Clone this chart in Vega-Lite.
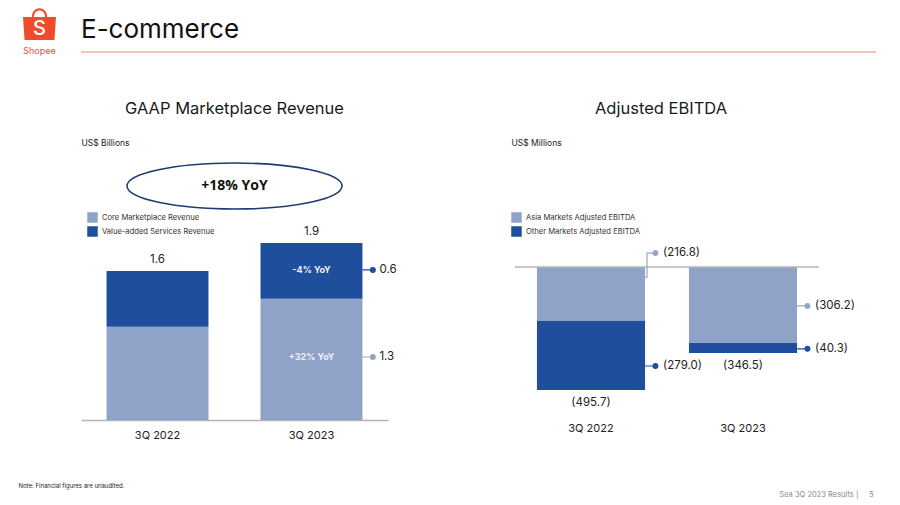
{
  "$schema": "https://vega.github.io/schema/vega-lite/v6.json",
  "background": "white",
  "padding": {"left": 18, "top": 8, "right": 10, "bottom": 5},
  "config": {"view": {"stroke": null}, "font": "Inter", "text": {"font": "Inter"}},
  "datasets": {
    "header": [{"title": "E-commerce", "brand": "Shopee", "initial": "S"}],
    "rev": [
      {"quarter": "3Q 2022", "series": "Core Marketplace Revenue", "value": 1.0},
      {"quarter": "3Q 2022", "series": "Value-added Services Revenue", "value": 0.6},
      {"quarter": "3Q 2023", "series": "Core Marketplace Revenue", "value": 1.3},
      {"quarter": "3Q 2023", "series": "Value-added Services Revenue", "value": 0.6}
    ],
    "revTotals": [
      {"quarter": "3Q 2022", "total": 1.6, "label": "1.6"},
      {"quarter": "3Q 2023", "total": 1.9, "label": "1.9"}
    ],
    "revNotes": [
      {"quarter": "3Q 2023", "series": "Value-added Services Revenue", "at": 1.61, "label": "0.6", "inside": "-4% YoY", "kind": "straight"},
      {"quarter": "3Q 2023", "series": "Core Marketplace Revenue", "at": 0.676, "label": "1.3", "inside": "+32% YoY", "kind": "straight"}
    ],
    "ebitda": [
      {"quarter": "3Q 2022", "series": "Asia Markets Adjusted EBITDA", "value": -216.8},
      {"quarter": "3Q 2022", "series": "Other Markets Adjusted EBITDA", "value": -279.0},
      {"quarter": "3Q 2023", "series": "Asia Markets Adjusted EBITDA", "value": -306.2},
      {"quarter": "3Q 2023", "series": "Other Markets Adjusted EBITDA", "value": -40.3}
    ],
    "ebitdaTotals": [
      {"quarter": "3Q 2022", "total": -495.7, "label": "(495.7)"},
      {"quarter": "3Q 2023", "total": -346.5, "label": "(346.5)"}
    ],
    "ebitdaNotes": [
      {"quarter": "3Q 2022", "series": "Asia Markets Adjusted EBITDA", "at": 56, "label": "(216.8)", "kind": "elbow"},
      {"quarter": "3Q 2022", "series": "Other Markets Adjusted EBITDA", "at": -399, "label": "(279.0)", "kind": "straight"},
      {"quarter": "3Q 2023", "series": "Asia Markets Adjusted EBITDA", "at": -157, "label": "(306.2)", "kind": "straight"},
      {"quarter": "3Q 2023", "series": "Other Markets Adjusted EBITDA", "at": -330, "label": "(40.3)", "kind": "straight"}
    ]
  },
  "spacing": 98,
  "bounds": "flush",
  "resolve": {"scale": {"color": "independent", "stroke": "independent", "shape": "independent"}, "legend": {"color": "independent"}},
  "vconcat": [
    {
      "width": 795,
      "height": 40,
      "data": {"name": "header"},
      "layer": [
        {
          "mark": {"type": "rule", "color": "#E9856F", "strokeWidth": 1.2},
          "encoding": {"y": {"datum": 0, "type": "quantitative", "scale": {"domain": [0, 1]}, "axis": null}}
        },
        {
          "mark": {"type": "point", "filled": true, "opacity": 1, "color": "#EE4D2D", "size": 1156,
            "shape": "M-0.97,-0.41L0.97,-0.41L0.88,0.94L-0.88,0.94ZM-0.45,-0.41C-0.45,-1.1 0.45,-1.1 0.45,-0.41L0.33,-0.41C0.33,-0.92 -0.33,-0.92 -0.33,-0.41Z"},
          "encoding": {
            "x": {"datum": -0.0522, "type": "quantitative", "scale": {"domain": [0, 1]}, "axis": null},
            "y": {"datum": 0.7, "type": "quantitative", "scale": {"domain": [0, 1]}, "axis": null}
          }
        },
        {
          "mark": {"type": "text", "color": "white", "fontSize": 20, "fontWeight": 500, "baseline": "middle"},
          "encoding": {
            "x": {"datum": -0.0522, "type": "quantitative"},
            "y": {"datum": 0.5875, "type": "quantitative"},
            "text": {"field": "initial"}
          }
        },
        {
          "mark": {"type": "text", "color": "#EE4D2D", "fontSize": 9, "baseline": "middle"},
          "encoding": {
            "x": {"datum": -0.0522, "type": "quantitative"},
            "y": {"datum": 0.025, "type": "quantitative"},
            "text": {"field": "brand"}
          }
        },
        {
          "mark": {"type": "text", "color": "#111111", "fontSize": 26, "align": "left", "baseline": "middle"},
          "encoding": {
            "x": {"datum": 0, "type": "quantitative"},
            "y": {"datum": 0.55, "type": "quantitative"},
            "text": {"field": "title"}
          }
        }
      ]
    },
    {
      "spacing": 127,
      "bounds": "flush",
      "resolve": {"scale": {"color": "independent", "stroke": "independent", "shape": "independent"}, "legend": {"color": "independent"}},
      "hconcat": [
        {
          "width": 307,
          "height": 270,
          "title": {"text": "GAAP Marketplace Revenue", "fontSize": 16.5, "fontWeight": 400, "color": "#1a1a1a", "offset": 21, "anchor": "middle", "font": "Inter"},
          "layer": [
            {
              "data": {"name": "rev"},
              "mark": {"type": "bar"},
              "encoding": {
                "x": {"field": "quarter", "type": "nominal", "scale": {"paddingInner": 0.338, "paddingOuter": 0.166},
                  "axis": {"title": "Note: Financial figures are unaudited.", "titleX": -63, "titleY": 65, "titleAlign": "left", "titleBaseline": "middle", "titleFontSize": 6, "titleFontWeight": "normal", "titleColor": "#222",
                    "labelAngle": 0, "labelFontSize": 11, "labelColor": "#222", "labelPadding": 9, "ticks": false, "domainColor": "#b4b4b4", "domainWidth": 1.5, "grid": false}},
                "y": {"field": "value", "type": "quantitative", "stack": "zero", "scale": {"domain": [0, 2.897], "nice": false},
                  "axis": {"domain": false, "ticks": false, "labels": false, "grid": false, "title": "US$ Billions", "titleAngle": 0, "titleX": 0, "titleY": -8, "titleAlign": "left", "titleBaseline": "middle", "titleFontSize": 8.5, "titleFontWeight": "normal", "titleColor": "#222"}},
                "color": {"field": "series", "type": "nominal",
                  "scale": {"domain": ["Core Marketplace Revenue", "Value-added Services Revenue"], "range": ["#8FA3C8", "#1F4E9C"]},
                  "legend": {"orient": "none", "legendX": 6, "legendY": 62, "title": null, "symbolType": "square", "symbolSize": 110, "symbolStrokeWidth": 0, "labelFontSize": 7.6, "labelColor": "#333", "rowPadding": 3, "padding": 0}},
                "order": {"field": "series", "type": "nominal", "sort": "ascending"}
              }
            },
            {
              "data": {"name": "revTotals"},
              "mark": {"type": "text", "baseline": "bottom", "dy": -6, "fontSize": 11.5, "color": "#222"},
              "encoding": {
                "x": {"field": "quarter", "type": "nominal"},
                "y": {"field": "total", "type": "quantitative"},
                "text": {"field": "label"}
              }
            },
            {
              "data": {"values": [{"note": "+18% YoY"}]},
              "mark": {"type": "point", "filled": false, "opacity": 1, "stroke": "#1F3B73", "strokeWidth": 1.6, "size": 46225,
                "shape": "M-1,0A1,0.214 0 1,1 1,0A1,0.214 0 1,1 -1,0Z"},
              "encoding": {"y": {"datum": 2.51, "type": "quantitative"}}
            },
            {
              "data": {"values": [{"note": "+18% YoY"}]},
              "mark": {"type": "text", "font": "Open Sans", "fontWeight": "bold", "fontSize": 14, "color": "#111", "baseline": "middle"},
              "encoding": {"y": {"datum": 2.51, "type": "quantitative"}, "text": {"field": "note"}}
            },
            {
              "data": {"name": "revNotes"},
              "mark": {"type": "point", "filled": true, "opacity": 1, "size": 256, "strokeWidth": 1.2, "xOffset": 8},
              "encoding": {
                "x": {"field": "quarter", "type": "nominal", "bandPosition": 1},
                "y": {"field": "at", "type": "quantitative"},
                "color": {"field": "series", "type": "nominal"},
                "stroke": {"field": "series", "type": "nominal", "scale": {"domain": ["Core Marketplace Revenue", "Value-added Services Revenue"], "range": ["#9AA8C4", "#1F4E9C"]}, "legend": null},
                "shape": {"field": "kind", "type": "nominal", "scale": {"domain": ["straight", "elbow"], "range": ["M-1,0L0.05,0ZM0.6,0A0.3,0.3 0 1,1 0,0A0.3,0.3 0 1,1 0.6,0Z", "M-1,3L-0.75,3L-0.75,0L0.05,0L-0.75,0L-0.75,3ZM0.6,0A0.3,0.3 0 1,1 0,0A0.3,0.3 0 1,1 0.6,0Z"]}, "legend": null}
              }
            },
            {
              "data": {"name": "revNotes"},
              "mark": {"type": "text", "align": "left", "baseline": "middle", "dx": 17, "fontSize": 11.5, "color": "#222"},
              "encoding": {
                "x": {"field": "quarter", "type": "nominal", "bandPosition": 1},
                "y": {"field": "at", "type": "quantitative"},
                "text": {"field": "label"}
              }
            },
            {
              "data": {"name": "revNotes"},
              "mark": {"type": "text", "baseline": "middle", "fontSize": 9, "fontWeight": "bold", "color": "#F7EEF3"},
              "encoding": {
                "x": {"field": "quarter", "type": "nominal"},
                "y": {"field": "at", "type": "quantitative"},
                "text": {"field": "inside"}
              }
            }
          ]
        },
        {
          "width": 304,
          "height": 270,
          "title": {"text": "Adjusted EBITDA", "fontSize": 16.5, "fontWeight": 400, "color": "#1a1a1a", "offset": 21, "anchor": "middle", "dx": -6, "font": "Inter"},
          "layer": [
            {
              "data": {"name": "ebitda"},
              "mark": {"type": "bar"},
              "encoding": {
                "x": {"field": "quarter", "type": "nominal", "scale": {"paddingInner": 0.289, "paddingOuter": 0.1445},
                  "axis": {"title": "Sea 3Q 2023 Results |\u00a0\u00a0\u00a0\u00a0\u00a05", "titleX": 358, "titleY": 74, "titleAlign": "right", "titleBaseline": "middle", "titleFontSize": 7.5, "titleFontWeight": "normal", "titleColor": "#8a8a8a",
                    "labelAngle": 0, "labelFontSize": 11, "labelColor": "#222", "labelPadding": 2, "ticks": false, "domain": false, "grid": false}},
                "y": {"field": "value", "type": "quantitative", "stack": "zero", "scale": {"domain": [-616.7, 471.6], "nice": false, "zero": false},
                  "axis": {"domain": false, "ticks": false, "labels": false, "grid": false, "title": "US$ Millions", "titleAngle": 0, "titleX": -4, "titleY": -8, "titleAlign": "left", "titleBaseline": "middle", "titleFontSize": 8.5, "titleFontWeight": "normal", "titleColor": "#222"}},
                "color": {"field": "series", "type": "nominal",
                  "scale": {"domain": ["Asia Markets Adjusted EBITDA", "Other Markets Adjusted EBITDA"], "range": ["#8FA3C8", "#1F4E9C"]},
                  "legend": {"orient": "none", "legendX": -4, "legendY": 62, "title": null, "symbolType": "square", "symbolSize": 110, "symbolStrokeWidth": 0, "labelFontSize": 7.6, "labelColor": "#333", "rowPadding": 3, "padding": 0}},
                "order": {"field": "series", "type": "nominal", "sort": "ascending"}
              }
            },
            {
              "data": {"values": [{"zero": 0}]},
              "mark": {"type": "rule", "color": "#b4b4b4", "strokeWidth": 1.5},
              "encoding": {"y": {"field": "zero", "type": "quantitative"}}
            },
            {
              "data": {"name": "ebitdaTotals"},
              "mark": {"type": "text", "baseline": "top", "dy": 7, "fontSize": 11.5, "color": "#222"},
              "encoding": {
                "x": {"field": "quarter", "type": "nominal"},
                "y": {"field": "total", "type": "quantitative"},
                "text": {"field": "label"}
              }
            },
            {
              "data": {"name": "ebitdaNotes"},
              "mark": {"type": "point", "filled": true, "opacity": 1, "size": 256, "strokeWidth": 1.2, "xOffset": 8},
              "encoding": {
                "x": {"field": "quarter", "type": "nominal", "bandPosition": 1},
                "y": {"field": "at", "type": "quantitative"},
                "color": {"field": "series", "type": "nominal"},
                "stroke": {"field": "series", "type": "nominal", "scale": {"domain": ["Asia Markets Adjusted EBITDA", "Other Markets Adjusted EBITDA"], "range": ["#9AA8C4", "#1F4E9C"]}, "legend": null},
                "shape": {"field": "kind", "type": "nominal", "scale": {"domain": ["straight", "elbow"], "range": ["M-1,0L0.05,0ZM0.6,0A0.3,0.3 0 1,1 0,0A0.3,0.3 0 1,1 0.6,0Z", "M-1,3L-0.75,3L-0.75,0L0.05,0L-0.75,0L-0.75,3ZM0.6,0A0.3,0.3 0 1,1 0,0A0.3,0.3 0 1,1 0.6,0Z"]}, "legend": null}
              }
            },
            {
              "data": {"name": "ebitdaNotes"},
              "mark": {"type": "text", "align": "left", "baseline": "middle", "dx": 18, "fontSize": 11.5, "color": "#222"},
              "encoding": {
                "x": {"field": "quarter", "type": "nominal", "bandPosition": 1},
                "y": {"field": "at", "type": "quantitative"},
                "text": {"field": "label"}
              }
            }
          ]
        }
      ]
    }
  ]
}
